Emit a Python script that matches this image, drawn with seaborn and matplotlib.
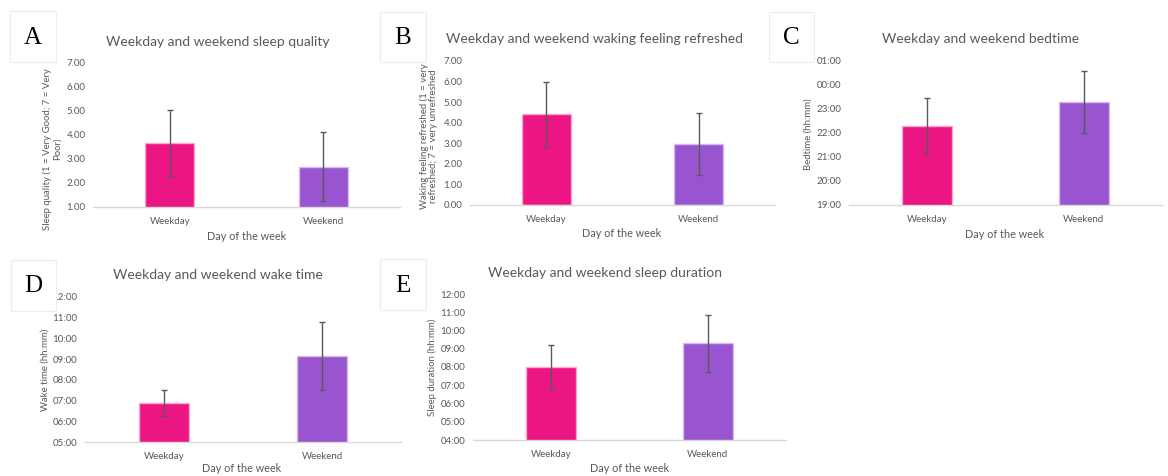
import matplotlib
matplotlib.use("Agg")
import matplotlib.pyplot as plt
from matplotlib.patches import Rectangle
from matplotlib.ticker import FuncFormatter, MultipleLocator
import seaborn as sns
import pandas as pd

# ---------------- data ----------------
days = ["Weekday", "Weekend"]

quality_mean = [3.65, 2.67]
quality_sd = [1.37, 1.44]

refreshed_mean = [4.40, 2.97]
refreshed_sd = [1.57, 1.52]

bedtime_mean = [22.28, 23.28]      # decimal hours (24 h clock, >24 = after midnight)
bedtime_sd = [1.16, 1.30]

waketime_mean = [6.88, 9.15]
waketime_sd = [0.62, 1.62]

duration_mean = [8.01, 9.31]
duration_sd = [1.21, 1.56]

titles = ["Weekday and weekend sleep quality",
          "Weekday and weekend waking feeling refreshed",
          "Weekday and weekend bedtime",
          "Weekday and weekend wake time",
          "Weekday and weekend sleep duration"]
ylabels = ["Sleep quality (1 = Very Good; 7 = Very\nPoor)",
           "Waking feeling refreshed (1 = very\nrefreshed; 7 = very unrefreshed",
           "Bedtime (hh:mm)",
           "Wake time (hh:mm)",
           "Sleep duration (hh:mm)"]
xlabel = "Day of the week"
letters = ["A", "B", "C", "D", "E"]

# ---------------- style ----------------
sns.set_theme(style="white")
plt.rcParams["font.family"] = ["Lato", "DejaVu Sans"]

W, H = 1168, 476
fig = plt.figure(figsize=(W / 100, H / 100), dpi=100)
fig.patch.set_facecolor("white")

GREY = "#595959"
palette = ["#EC1584", "#9955D0"]
edges = ["#F7A8CF", "#D6B8EE"]


def fx(x):
    return x / W


def fy(y):
    return 1 - y / H


def make_axes(l, t, r, b):
    return fig.add_axes([fx(l), fy(b), (r - l) / W, (b - t) / H])


def hhmm(v, pos=None):
    return f"{int(round(v)) % 24:02d}:00"


def decimal2(v, pos=None):
    return f"{v:.2f}"


panels = [
    dict(mean=quality_mean, sd=quality_sd, rect=(93, 62, 400, 207), ylim=(1, 7),
         fmt=decimal2, title_xy=(218, 42), ylab_xy=(52, 149), xlab_xy=(247, 236),
         box=(10, 11, 56, 62)),
    dict(mean=refreshed_mean, sd=refreshed_sd, rect=(470, 61, 775, 205), ylim=(0, 7),
         fmt=decimal2, title_xy=(594, 39), ylab_xy=(429, 136), xlab_xy=(622, 233),
         box=(380, 12, 426, 62)),
    dict(mean=bedtime_mean, sd=bedtime_sd, rect=(849, 61, 1162, 205), ylim=(19, 25),
         fmt=hhmm, title_xy=(981, 39), ylab_xy=(808, 134), xlab_xy=(1005, 234),
         box=(769, 12, 814, 62)),
    dict(mean=waketime_mean, sd=waketime_sd, rect=(85, 297, 401, 442), ylim=(5, 12),
         fmt=hhmm, title_xy=(218, 275), ylab_xy=(45, 370), xlab_xy=(242, 469),
         box=(11, 260, 56, 311)),
    dict(mean=duration_mean, sd=duration_sd, rect=(473, 294, 786, 440), ylim=(4, 12),
         fmt=hhmm, title_xy=(605, 273), ylab_xy=(432, 367), xlab_xy=(630, 468),
         box=(380, 259, 426, 310)),
]

for i, p in enumerate(panels):
    ax = make_axes(*p["rect"])
    df = pd.DataFrame({"day": days, "value": p["mean"]})
    sns.barplot(data=df, x="day", y="value", hue="day", palette=palette,
                saturation=1, width=0.32, errorbar=None, legend=False, ax=ax,
                linewidth=1.0, edgecolor="none")
    for patch, ec in zip(ax.patches, edges):
        patch.set_edgecolor(ec)
    ax.errorbar(x=[0, 1], y=p["mean"], yerr=p["sd"], fmt="none",
                ecolor=GREY, elinewidth=1.0, capsize=2.2, capthick=1.0, zorder=5)
    ax.set_xlim(-0.5, 1.5)
    ax.set_ylim(*p["ylim"])
    ax.yaxis.set_major_locator(MultipleLocator(1))
    ax.yaxis.set_major_formatter(FuncFormatter(p["fmt"]))
    for s in ["top", "right", "left"]:
        ax.spines[s].set_visible(False)
    ax.spines["bottom"].set_color("#d9d9d9")
    ax.spines["bottom"].set_linewidth(1.0)
    ax.tick_params(axis="both", length=0, labelsize=7.0, labelcolor=GREY)
    ax.tick_params(axis="y", pad=5.5)
    ax.tick_params(axis="x", pad=7)
    ax.set_xlabel("")
    ax.set_ylabel("")
    ax.set_facecolor("none")

    fig.text(fx(p["title_xy"][0]), fy(p["title_xy"][1]), titles[i],
             ha="center", va="center", fontsize=10, color=GREY)
    fig.text(fx(p["ylab_xy"][0]), fy(p["ylab_xy"][1]), ylabels[i],
             ha="center", va="center", rotation=90, fontsize=6.9,
             color=GREY, multialignment="center", linespacing=1.05)
    fig.text(fx(p["xlab_xy"][0]), fy(p["xlab_xy"][1]), xlabel,
             ha="center", va="center", fontsize=7.8, color=GREY)

    bl, bt, br, bb = p["box"]
    rect = Rectangle((fx(bl), fy(bb)), (br - bl) / W, (bb - bt) / H,
                     transform=fig.transFigure, facecolor="white",
                     edgecolor="#ececec", linewidth=0.8, zorder=10)
    fig.add_artist(rect)
    fig.text(fx((bl + br) / 2), fy((bt + bb) / 2 + 1), letters[i],
             ha="center", va="center", fontsize=18,
             family=["Liberation Serif", "DejaVu Serif"], color="black", zorder=11)

fig.savefig("out.png", dpi=100, facecolor="white")
